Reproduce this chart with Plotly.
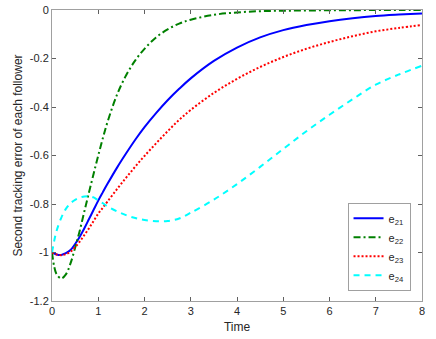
import plotly.graph_objects as go

t = [0, 0.05, 0.1, 0.2, 0.3, 0.4, 0.5, 0.6, 0.7, 0.8, 0.9, 1.0, 1.1, 1.2, 1.4, 1.6, 1.8, 2.0,
     2.25, 2.5, 2.75, 3.0, 3.5, 4.0, 4.5, 5.0, 5.5, 6.0, 6.5, 7.0, 7.5, 8.0]

e21 = [-1.0, -1.004, -1.008, -1.01, -1.003, -0.99, -0.965, -0.935, -0.9, -0.862, -0.824,
       -0.786, -0.751, -0.717, -0.652, -0.592, -0.535, -0.483, -0.425, -0.372, -0.325, -0.282,
       -0.21, -0.155, -0.113, -0.083, -0.062, -0.046, -0.034, -0.025, -0.019, -0.014]

e22 = [-1.0, -1.06, -1.09, -1.107, -1.09, -1.045, -0.98, -0.91, -0.83, -0.752, -0.675,
       -0.6, -0.528, -0.462, -0.352, -0.27, -0.208, -0.16, -0.113, -0.08, -0.056, -0.04,
       -0.02, -0.01, -0.005, -0.003, -0.002, -0.001, -0.001, 0.0, 0.0, 0.0]

e23 = [-1.0, -1.004, -1.008, -1.011, -1.007, -0.997, -0.978, -0.955, -0.928, -0.9, -0.87,
       -0.84, -0.815, -0.79, -0.74, -0.692, -0.646, -0.602, -0.55, -0.5, -0.453, -0.412,
       -0.342, -0.284, -0.235, -0.194, -0.16, -0.132, -0.108, -0.088, -0.074, -0.062]

e24 = [-1.0, -0.95, -0.91, -0.857, -0.82, -0.797, -0.783, -0.774, -0.769, -0.768, -0.773,
       -0.785, -0.797, -0.81, -0.83, -0.846, -0.858, -0.866, -0.871, -0.87, -0.86, -0.836,
       -0.782, -0.718, -0.647, -0.573, -0.50, -0.432, -0.368, -0.308, -0.266, -0.23]

x_ticks = [0, 1, 2, 3, 4, 5, 6, 7, 8]
y_ticks = [-1.2, -1, -0.8, -0.6, -0.4, -0.2, 0]
y_tick_text = ["-1.2", "-1", "-0.8", "-0.6", "-0.4", "-0.2", "0"]

series = [
    ("e<sub>21</sub>", e21, "#0000ff", "solid"),
    ("e<sub>22</sub>", e22, "#008000", "7px,3px,2px,3px"),
    ("e<sub>23</sub>", e23, "#ff0000", "2px,2px"),
    ("e<sub>24</sub>", e24, "#00ffff", "6px,5px"),
]

fig = go.Figure()
for name, ys, color, dash in series:
    fig.add_trace(go.Scatter(x=t, y=ys, mode="lines", name=name,
                             line=dict(color=color, width=2, dash=dash, shape="spline")))

axis_common = dict(showline=True, linecolor="#a0a0a0", linewidth=1, mirror="ticks",
                   ticks="inside", ticklen=4, tickcolor="#606060", showgrid=False,
                   zeroline=False, automargin=False, tickfont=dict(size=11, color="#262626"))

fig.update_layout(
    width=436, height=339,
    margin=dict(l=52, r=14, t=10, b=38),
    paper_bgcolor="white", plot_bgcolor="white",
    font=dict(family="Liberation Sans, Arial, sans-serif", color="#262626", size=11),
    xaxis=dict(range=[0, 8], tickvals=x_ticks, title=dict(text="Time", font=dict(size=12), standoff=6),
               **axis_common),
    yaxis=dict(range=[-1.2, 0], tickvals=y_ticks, ticktext=y_tick_text,
               title=dict(text="Second tracking error of each follower", font=dict(size=12), standoff=4),
               **axis_common),
    legend=dict(x=0.969, y=0.035, xanchor="right", yanchor="bottom",
                bordercolor="#a0a0a0", borderwidth=1, bgcolor="white",
                font=dict(size=11), tracegroupgap=0, itemwidth=30),
    showlegend=True,
    hovermode=False,
)

fig.write_html("out.html", config={"displayModeBar": False, "staticPlot": True},
               post_script="document.body.style.margin='0';document.body.style.overflow='hidden';")
